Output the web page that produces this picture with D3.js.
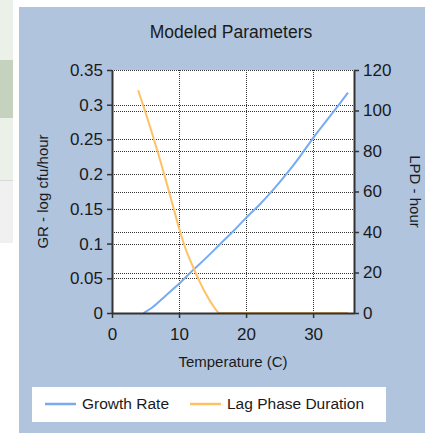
<!DOCTYPE html>
<html>
<head>
<meta charset="utf-8">
<script src="https://cdn.jsdelivr.net/npm/d3@7"></script>
<style>
  html, body { margin: 0; padding: 0; background: #fff; }
  svg { display: block; font-family: "Liberation Sans", Arial, sans-serif; }
</style>
</head>
<body>
<div id="chart"></div>
<script>
// Modeled parameters chart data
const temps = [4.7, 6, 8, 10, 12, 14, 16, 18, 20, 22, 24, 26, 28, 30, 32, 34, 35.2];
const growthRate = [0, 0.008, 0.025, 0.042, 0.061, 0.079, 0.098, 0.117, 0.137, 0.156, 0.177, 0.2, 0.225, 0.252, 0.277, 0.302, 0.3175];

const lagTemps = [3.9, 5, 6, 7, 8, 9, 10, 11, 12, 13, 14, 15, 15.6, 16, 20, 25, 30, 35.2];
const lagDuration = [110, 99, 88.5, 77.5, 66, 54, 42, 31.5, 23.5, 16, 9.5, 4, 1.2, 0, 0, 0, 0, 0];

const xTicks = [0, 10, 20, 30];
const leftTicks = [0, 0.05, 0.1, 0.15, 0.2, 0.25, 0.3, 0.35];
const rightTicks = [0, 20, 40, 60, 80, 100, 120];

const seriesNames = ["Growth Rate", "Lag Phase Duration"];
const seriesColors = ["#76abf2", "#ffc163"];

const W = 425, H = 433;
const svg = d3.select('#chart').append('svg')
    .attr('width', W)
    .attr('height', H);

// left strip (bits of the surrounding window)
const strip = [[0, 60, '#ebf1e8'], [60, 118, '#c4d2be'], [118, 180, '#ebf1e8'], [180, 243, '#f0f0f0']];
strip.forEach(s => {
    svg.append('rect').attr('x', 0).attr('y', s[0]).attr('width', 13).attr('height', s[1] - s[0]).attr('fill', s[2]);
});
svg.append('line').attr('x1', 0).attr('x2', 13).attr('y1', 180.5).attr('y2', 180.5).attr('stroke', '#d8d8d8');

// chart panel
svg.append('rect')
    .attr('x', 19).attr('y', 7)
    .attr('width', W - 19).attr('height', H - 7)
    .attr('fill', '#b0c4de');

const plotL = 112, plotR = 354, plotT = 70, plotB = 313;

const x = d3.scaleLinear().domain([0, 36.1]).range([plotL, plotR]);
const yL = d3.scaleLinear().domain([0, 0.35]).range([plotB, plotT]);
const yR = d3.scaleLinear().domain([0, 120]).range([plotB, plotT]);

// plot area
svg.append('rect')
    .attr('x', plotL).attr('y', plotT)
    .attr('width', plotR - plotL).attr('height', plotB - plotT)
    .attr('fill', '#fff');

// grid
const grid = svg.append('g')
    .attr('stroke', '#333')
    .attr('stroke-width', 1)
    .attr('stroke-dasharray', '1,1');

leftTicks.forEach(t => {
    const yy = Math.round(yL(t)) + 0.5;
    grid.append('line').attr('x1', plotL).attr('x2', plotR).attr('y1', yy).attr('y2', yy);
});
rightTicks.forEach(t => {
    const yy = Math.round(yR(t)) + 0.5;
    grid.append('line').attr('x1', plotL).attr('x2', plotR).attr('y1', yy).attr('y2', yy);
});
xTicks.slice(1).forEach(t => {
    const xx = Math.round(x(t)) + 0.5;
    grid.append('line').attr('x1', xx).attr('x2', xx).attr('y1', plotT).attr('y2', plotB);
});

// curves
const grLine = d3.line()
    .x((d, i) => x(temps[i]))
    .y(d => yL(d))
    .curve(d3.curveMonotoneX);

const lagLine = d3.line()
    .x((d, i) => x(lagTemps[i]))
    .y(d => yR(d))
    .curve(d3.curveMonotoneX);

svg.append('path')
    .attr('d', grLine(growthRate))
    .attr('fill', 'none')
    .attr('stroke', seriesColors[0])
    .attr('stroke-width', 2);

svg.append('path')
    .attr('d', lagLine(lagDuration))
    .attr('fill', 'none')
    .attr('stroke', seriesColors[1])
    .attr('stroke-width', 2);

// axes
const axisColor = '#333';
function styleAxis(g) {
    g.select('.domain').attr('stroke', axisColor).attr('stroke-width', 2);
    g.selectAll('.tick line').attr('stroke', axisColor).attr('stroke-width', 1.5);
    g.selectAll('.tick text').attr('fill', '#1a1a1a').style('font-size', '17px');
}

svg.append('g')
    .attr('transform', `translate(${plotL},0)`)
    .call(d3.axisLeft(yL).tickValues(leftTicks).tickFormat(d => String(d)).tickSize(5).tickSizeOuter(0).tickPadding(4))
    .call(styleAxis);

svg.append('g')
    .attr('transform', `translate(${plotR},0)`)
    .call(d3.axisRight(yR).tickValues(rightTicks).tickSize(5).tickSizeOuter(0).tickPadding(4))
    .call(styleAxis);

svg.append('g')
    .attr('transform', `translate(0,${plotB})`)
    .call(d3.axisBottom(x).tickValues(xTicks).tickSize(5).tickSizeOuter(0).tickPadding(10))
    .call(styleAxis);

// top border of plot
svg.append('line')
    .attr('x1', plotL).attr('x2', plotR)
    .attr('y1', plotT + 0.5).attr('y2', plotT + 0.5)
    .attr('stroke', '#333').attr('stroke-dasharray', '1,1');

// title
svg.append('text')
    .attr('x', 231).attr('y', 38)
    .attr('text-anchor', 'middle')
    .style('font-size', '17.5px')
    .attr('fill', '#1a1a1a')
    .text('Modeled Parameters');

// axis titles
svg.append('text')
    .attr('x', (plotL + plotR) / 2).attr('y', 367)
    .attr('text-anchor', 'middle')
    .style('font-size', '15px')
    .attr('fill', '#1a1a1a')
    .text('Temperature (C)');

svg.append('text')
    .attr('transform', `translate(48,${(plotT + plotB) / 2}) rotate(-90)`)
    .attr('text-anchor', 'middle')
    .style('font-size', '15px')
    .attr('fill', '#1a1a1a')
    .text('GR - log cfu/hour');

svg.append('text')
    .attr('transform', `translate(410,${(plotT + plotB) / 2}) rotate(90)`)
    .attr('text-anchor', 'middle')
    .style('font-size', '15px')
    .attr('fill', '#1a1a1a')
    .text('LPD - hour');

// legend
const legend = svg.append('g');
legend.append('rect')
    .attr('x', 32).attr('y', 387)
    .attr('width', 354).attr('height', 35)
    .attr('fill', '#fff');

const legendX = [45, 190];
seriesNames.forEach((name, i) => {
    legend.append('line')
        .attr('x1', legendX[i]).attr('x2', legendX[i] + 31)
        .attr('y1', 404).attr('y2', 404)
        .attr('stroke', seriesColors[i])
        .attr('stroke-width', 2.5);
    legend.append('text')
        .attr('x', legendX[i] + 37).attr('y', 409)
        .style('font-size', '15.5px')
        .attr('fill', '#1a1a1a')
        .text(name);
});
</script>
</body>
</html>
